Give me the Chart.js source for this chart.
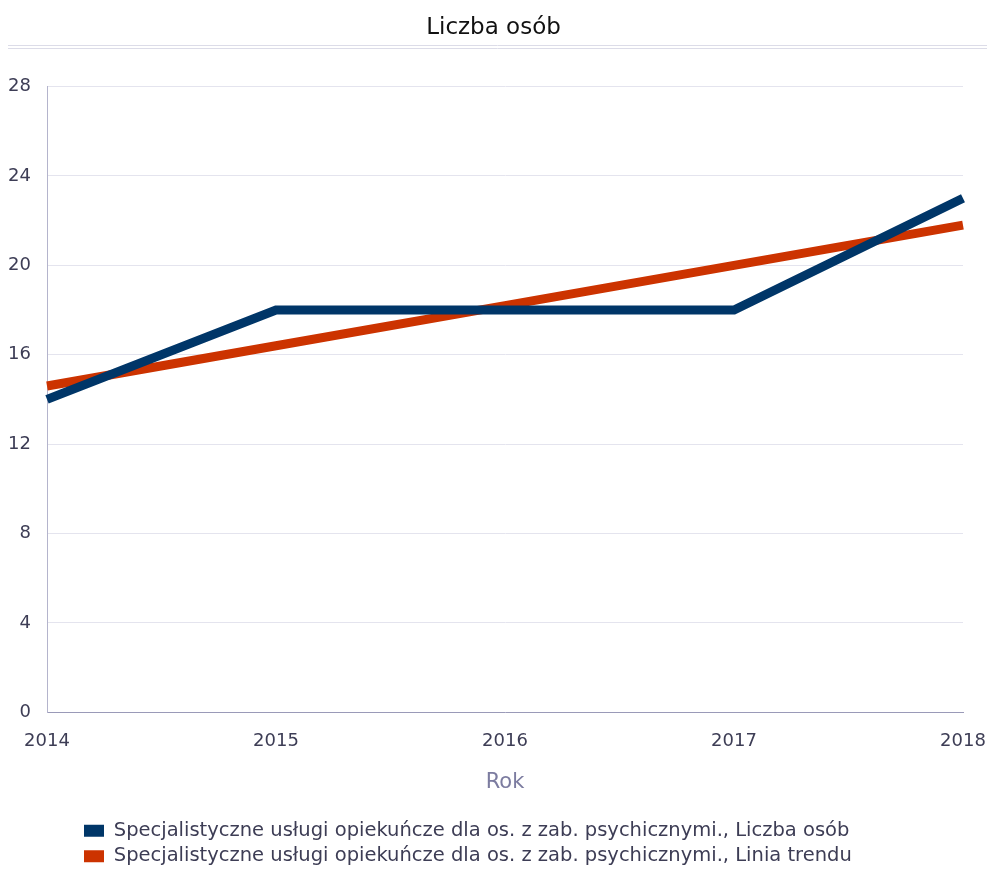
<!DOCTYPE html>
<html>
<head>
<meta charset="utf-8">
<script src="https://cdn.jsdelivr.net/npm/chart.js@4"></script>
<style>
  body { margin: 0; background: #fff; }
  #wrap { width: 987px; height: 869px; position: relative; }
</style>
</head>
<body>
<div id="wrap"><canvas id="chart"></canvas></div>
<script>
const years = ["2014", "2015", "2016", "2017", "2018"];
const liczbaOsob = [14, 18, 18, 18, 23];
const liniaTrendu = [14.6, 16.4, 18.2, 20.0, 21.8];
const yTicks = [0, 4, 8, 12, 16, 20, 24, 28];

const ctx = document.getElementById("chart").getContext('2d');

// double rule under the title + move legend to its left spot
const extras = {
    id: 'extras',
    beforeDraw(chart) {
        const lg = chart.legend;
        if (lg) {
            lg.left = 84 - lg.options.labels.padding;
        }
    },
    afterDraw(chart) {
        const c = chart.ctx;
        c.save();
        c.strokeStyle = '#dcdce8';
        c.lineWidth = 1;
        [45.5, 48.5].forEach(y => {
            c.beginPath();
            c.moveTo(8, y);
            c.lineTo(987, y);
            c.stroke();
        });
        c.restore();
    }
};

new Chart(ctx, {
    type: 'line',
    data: {
        labels: years,
        datasets: [{
            label: "Specjalistyczne usługi opiekuńcze dla os. z zab. psychicznymi., Liczba osób",
            data: liczbaOsob,
            borderColor: '#003668',
            backgroundColor: '#003668',
            borderWidth: 9,
            pointRadius: 0,
            tension: 0
        }, {
            label: "Specjalistyczne usługi opiekuńcze dla os. z zab. psychicznymi., Linia trendu",
            data: liniaTrendu,
            borderColor: '#cc3300',
            backgroundColor: '#cc3300',
            borderWidth: 9,
            pointRadius: 0,
            tension: 0
        }]
    },
    options: {
        responsive: true,
        maintainAspectRatio: false,
        animation: false,
        layout: {
            padding: { left: 0, right: 0, top: 0, bottom: -7 }
        },
        scales: {
            x: {
                offset: false,
                afterFit: axis => { axis.paddingRight = 24; },
                grid: { display: false },
                border: { color: '#9a9ab8', width: 1 },
                ticks: {
                    color: '#3d3d55',
                    font: { family: 'DejaVu Sans', size: 18 },
                    maxRotation: 0,
                    padding: 10
                },
                title: {
                    display: true,
                    text: 'Rok',
                    color: '#7c7ca0',
                    font: { family: 'DejaVu Sans', size: 21 },
                    padding: { top: 8, bottom: 20 }
                }
            },
            y: {
                min: 0,
                max: 28,
                afterBuildTicks: axis => {
                    axis.ticks = yTicks.map(v => ({ value: v }));
                },
                afterFit: axis => { axis.width = 47; },
                grid: { color: '#e4e4ee', drawTicks: false },
                border: { color: '#b4b4cc', width: 1 },
                ticks: {
                    color: '#3d3d55',
                    font: { family: 'DejaVu Sans', size: 18 },
                    padding: 16
                }
            }
        },
        plugins: {
            title: {
                display: true,
                text: 'Liczba osób',
                color: '#111',
                font: { family: 'DejaVu Sans', size: 23, weight: 'normal' },
                padding: { top: 14, bottom: 45 }
            },
            legend: {
                position: 'bottom',
                align: 'start',
                labels: {
                    color: '#3d3d55',
                    font: { family: 'DejaVu Sans', size: 19.5 },
                    boxWidth: 20,
                    boxHeight: 12,
                    padding: 6,
                    generateLabels: chart =>
                        Chart.defaults.plugins.legend.labels.generateLabels(chart)
                            .map(item => ({ ...item, lineWidth: 0 }))
                }
            },
            tooltip: { enabled: false }
        }
    },
    plugins: [extras]
});
</script>
</body>
</html>
